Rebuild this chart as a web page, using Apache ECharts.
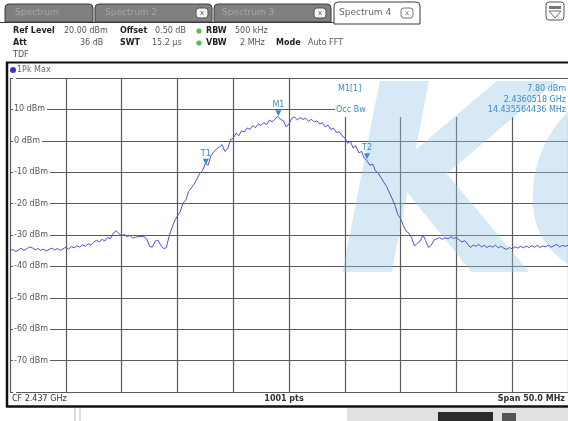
<!DOCTYPE html>
<html><head><meta charset="utf-8">
<script src="https://cdn.jsdelivr.net/npm/echarts@6/dist/echarts.min.js"></script>
<style>html,body{margin:0;padding:0;background:#fff}#c{width:568px;height:421px}</style>
</head><body><div id="c"></div>
<script>
// ---- data ----
const freqStartMHz = 0;      // offset from 2.412 GHz (CF 2.437 GHz, span 50 MHz)
const freqStepMHz = 0.25;
const levels = [
 -35.0,-34.6,-35.3,-34.8, -34.2,-34.9,-34.4,-33.8, -34.1,-34.7,-34.3,-34.9, -34.5,-35.1,-34.6,-34.2,
 -34.8,-34.3,-34.9,-34.4, -33.9,-34.5,-33.7,-34.1, -33.4,-33.9,-33.1,-33.6, -32.8,-33.2,-32.3,-31.7,
 -32.2,-31.4,-31.9,-30.8, -31.2,-29.6,-28.6,-29.5, -30.2,-29.8,-30.6,-30.1, -31.0,-30.7,-30.5,-30.5,
 -30.5,-31.2,-33.6,-33.9, -32.0,-31.6,-33.2,-34.3, -34.1,-30.5,-27.8,-25.5, -24.0,-22.6,-19.8,-18.9,
 -16.2,-15.0,-13.8,-12.2, -10.4,-9.5,-7.2,-7.8, -4.8,-3.6,-2.6,-2.0, -1.2,-3.4,-2.6,0.3,
 0.8,2.4,1.6,3.2, 2.8,4.1,3.6,4.8, 4.2,5.4,4.9,5.8, 5.2,6.6,6.0,7.0,
 7.8,6.8,6.4,4.4, 5.4,7.2,7.6,6.6, 7.4,6.8,7.2,6.2, 6.9,6.0,6.4,5.3,
 5.8,4.4,5.0,3.6, 4.0,2.6,2.9,1.6, 1.0,-0.8,-0.2,-2.3, -1.6,-3.8,-3.4,-5.5,
 -6.4,-7.8,-7.4,-9.6, -10.3,-11.8,-13.2,-14.6, -16.6,-18.5,-20.6,-23.5, -24.8,-27.0,-28.8,-29.4,
 -31.0,-33.5,-32.6,-32.0, -30.0,-31.8,-34.0,-33.2, -31.6,-31.2,-30.8,-31.4, -30.9,-31.2,-30.6,-31.1,
 -30.8,-31.6,-32.2,-31.8, -32.8,-34.0,-33.2,-33.6, -33.0,-33.8,-33.3,-34.0, -33.4,-33.9,-33.2,-34.1,
 -33.6,-34.2,-34.6,-34.0, -34.4,-33.7,-34.2,-33.6, -34.1,-33.5,-34.0,-33.4, -33.9,-33.3,-34.0,-33.5,
 -33.8,-33.2,-33.9,-33.4, -33.0,-33.8,-33.3,-33.6, -33.3
];
const yLabelValues = [10, 0, -10, -20, -30, -40, -50, -60, -70];
const markerNames  = ['M1', 'T1', 'T2'];
const markerFreqs  = [24.05, 17.55, 31.99];
const markerLevels = [7.8, -7.6, -5.9];
const infoLeft  = ['M1[1]', '', 'Occ Bw'];
const infoRight = ['7.80 dBm', '2.4360518 GHz', '14.435564436 MHz'];

// ---- chart ----
const F = '"DejaVu Sans", Verdana, sans-serif';
const seriesData = levels.map((v, i) => [freqStartMHz + i * freqStepMHz, v]);
const BLUE_T = '#3a8cc6';

function txt(t, x, y, opt) {
  opt = opt || {};
  return { type: 'text', z: opt.z || 5, style: {
    text: t, x: x, y: y, fill: opt.fill || '#444',
    font: (opt.bold ? 'bold ' : '') + (opt.size || 8) + 'px ' + F,
    textAlign: opt.align || 'left', textVerticalAlign: 'middle' } };
}

const graphics = [
  // tab strip
  { type: 'rect', z: 4, shape: { x: 5, y: 4, width: 88, height: 18, r: [4,4,0,0] }, style: { fill: '#808080', stroke: '#3a3a3a', lineWidth: 1 } },
  { type: 'rect', z: 4, shape: { x: 95, y: 4, width: 117, height: 18, r: [4,4,0,0] }, style: { fill: '#808080', stroke: '#3a3a3a', lineWidth: 1 } },
  { type: 'rect', z: 4, shape: { x: 214, y: 4, width: 117, height: 18, r: [4,4,0,0] }, style: { fill: '#808080', stroke: '#3a3a3a', lineWidth: 1 } },
  { type: 'rect', z: 4, shape: { x: 334, y: 2, width: 86, height: 22, r: [4,4,0,0] }, style: { fill: '#fff', stroke: '#3a3a3a', lineWidth: 1 } },
  txt('Spectrum', 15, 13, { fill: '#a6a6a6', size: 9 }),
  txt('Spectrum 2', 105, 13, { fill: '#a6a6a6', size: 9 }),
  txt('Spectrum 3', 222, 13, { fill: '#a6a6a6', size: 9 }),
  txt('Spectrum 4', 339, 13, { fill: '#666', size: 9 }),
  { type: 'rect', z: 5, shape: { x: 196, y: 8, width: 12, height: 10, r: 3 }, style: { fill: '#f4f4f4', stroke: '#555' } },
  { type: 'rect', z: 5, shape: { x: 314, y: 8, width: 12, height: 10, r: 3 }, style: { fill: '#f4f4f4', stroke: '#555' } },
  { type: 'rect', z: 5, shape: { x: 401, y: 8, width: 12, height: 10, r: 3 }, style: { fill: '#fff', stroke: '#777' } },
  txt('x', 202, 13, { fill: '#555', size: 7, align: 'center' }),
  txt('x', 320, 13, { fill: '#555', size: 7, align: 'center' }),
  txt('x', 407, 13, { fill: '#777', size: 7, align: 'center' }),
  { type: 'line', z: 4, shape: { x1: 0, y1: 22.5, x2: 334, y2: 22.5 }, style: { stroke: '#3a3a3a', lineWidth: 1 } },
  { type: 'rect', z: 4, shape: { x: 546, y: 2, width: 18, height: 18, r: 3 }, style: { fill: '#fff', stroke: '#555', lineWidth: 1 } },
  { type: 'rect', z: 5, shape: { x: 549, y: 6, width: 12, height: 3 }, style: { fill: '#777' } },
  { type: 'polygon', z: 5, shape: { points: [[549,11],[561,11],[555,18]] }, style: { fill: '#fff', stroke: '#666' } },
  // header
  txt('Ref Level', 13, 31, { bold: true, fill: '#222' }),
  txt('20.00 dBm', 64, 31, { fill: '#555' }),
  txt('Offset', 120, 31, { bold: true, fill: '#222' }),
  txt('0.50 dB', 155, 31, { fill: '#555' }),
  { type: 'circle', z: 5, shape: { cx: 199, cy: 31, r: 2.6 }, style: { fill: '#5cb85c' } },
  txt('RBW', 206, 31, { bold: true, fill: '#222' }),
  txt('500 kHz', 235, 31, { fill: '#555' }),
  txt('Att', 13, 43, { bold: true, fill: '#222' }),
  txt('36 dB', 80, 43, { fill: '#555' }),
  txt('SWT', 120, 43, { bold: true, fill: '#222' }),
  txt('15.2 µs', 152, 43, { fill: '#555' }),
  { type: 'circle', z: 5, shape: { cx: 199, cy: 43, r: 2.6 }, style: { fill: '#5cb85c' } },
  txt('VBW', 206, 43, { bold: true, fill: '#222' }),
  txt('2 MHz', 240, 43, { fill: '#555' }),
  txt('Mode', 276, 43, { bold: true, fill: '#222' }),
  txt('Auto FFT', 308, 43, { fill: '#555' }),
  txt('TDF', 13, 55, { fill: '#555' }),
  // frame
  { type: 'line', z: 6, shape: { x1: 6, y1: 62.5, x2: 568, y2: 62.5 }, style: { stroke: '#111', lineWidth: 2 } },
  { type: 'line', z: 6, shape: { x1: 7, y1: 62, x2: 7, y2: 407 }, style: { stroke: '#111', lineWidth: 2.5 } },
  { type: 'line', z: 6, shape: { x1: 6, y1: 406.5, x2: 568, y2: 406.5 }, style: { stroke: '#111', lineWidth: 2.5 } },
  { type: 'circle', z: 5, shape: { cx: 13, cy: 70, r: 3 }, style: { fill: '#3a3ab8' } },
  txt('1Pk Max', 17, 70, { fill: '#666' }),
  // info box
  { type: 'rect', z: 1, z2: 0, shape: { x: 335, y: 79, width: 233, height: 38 }, style: { fill: '#fff' } },
  txt(infoLeft[0], 338, 89, { fill: BLUE_T }),
  txt(infoLeft[2], 336, 110, { fill: BLUE_T }),
  txt(infoRight[0], 566, 89, { fill: BLUE_T, align: 'right' }),
  txt(infoRight[1], 566, 99.5, { fill: BLUE_T, align: 'right' }),
  txt(infoRight[2], 566, 110, { fill: BLUE_T, align: 'right' }),
  // watermark
  { type: 'text', z: 1, z2: 10, style: { text: 'KC', x: 337, y: 204, fill: 'rgba(150,196,230,0.38)',
      font: 'italic bold 262px ' + F, textAlign: 'left', textVerticalAlign: 'middle' } },
  // footer
  txt('CF 2.437 GHz', 12, 399, { fill: '#333' }),
  txt('1001 pts', 284, 399, { fill: '#333', bold: true, align: 'center' }),
  txt('Span 50.0 MHz', 565, 399, { fill: '#333', bold: true, align: 'right' }),
  { type: 'rect', z: 4, shape: { x: 347, y: 408, width: 221, height: 13 }, style: { fill: '#e2e2e2' } },
  { type: 'rect', z: 5, shape: { x: 438, y: 412, width: 55, height: 9 }, style: { fill: '#2a2a2a' } },
  { type: 'rect', z: 5, shape: { x: 502, y: 413, width: 14, height: 8 }, style: { fill: '#555' } },
  { type: 'line', z: 4, shape: { x1: 75, y1: 408, x2: 75, y2: 421 }, style: { stroke: '#bbb' } },
  { type: 'line', z: 4, shape: { x1: 80, y1: 408, x2: 80, y2: 421 }, style: { stroke: '#bbb' } }
];

const chart = echarts.init(document.getElementById('c'));
chart.setOption({
  animation: false,
  backgroundColor: '#fff',
  grid: { left: 10, right: -2, top: 78, bottom: 29 },
  xAxis: {
    type: 'value', min: 0, max: 50, interval: 5,
    axisLine: { show: false }, axisTick: { show: false }, axisLabel: { show: false },
    splitLine: { show: true, lineStyle: { color: '#5a5a5a', width: 1.2 } }
  },
  yAxis: {
    type: 'value', min: -80, max: 20, interval: 10,
    axisLine: { show: false }, axisTick: { show: false },
    axisLabel: {
      inside: true, margin: 3, color: '#555', fontSize: 8, fontFamily: 'DejaVu Sans',
      backgroundColor: '#fff', padding: [1, 2, 1, 1],
      formatter: v => yLabelValues.indexOf(v) >= 0 ? v + ' dBm' : ''
    },
    splitLine: { show: true, lineStyle: { color: '#5a5a5a', width: 1.2 } }
  },
  series: [{
    type: 'line', data: seriesData, showSymbol: false, z: 3,
    lineStyle: { color: '#5050cc', width: 1 },
    markPoint: {
      symbol: 'triangle', symbolSize: 6, symbolRotate: 180, symbolOffset: [0, -3],
      itemStyle: { color: BLUE_T },
      label: { show: true, position: 'top', distance: 1, color: BLUE_T, fontSize: 8, fontFamily: 'DejaVu Sans',
               formatter: p => p.name },
      data: markerNames.map((n, i) => ({ name: n, coord: [markerFreqs[i], markerLevels[i]] }))
    }
  }],
  graphic: { elements: graphics }
});
</script>
</body></html>
